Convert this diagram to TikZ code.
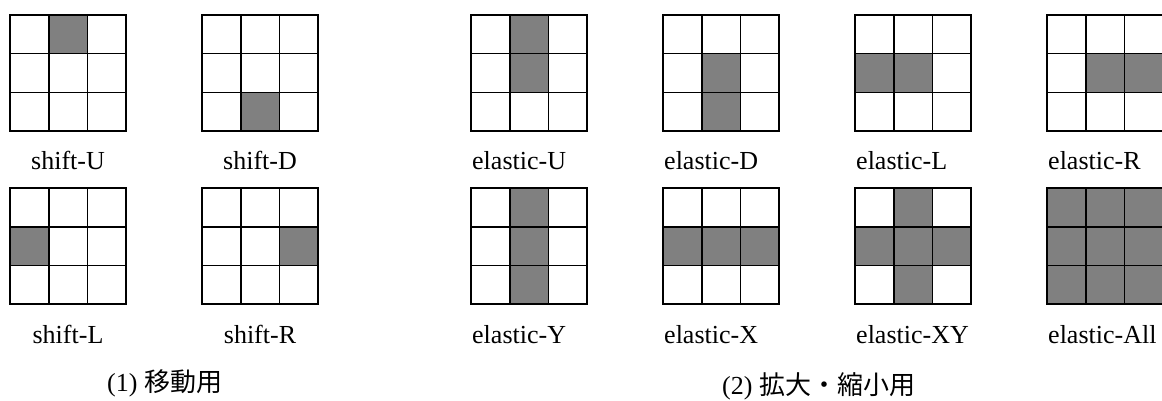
\documentclass[tikz,border=0pt]{standalone}
\usepackage{fontspec}
\setmainfont{Liberation Serif}
\newfontfamily\cjkfont{Noto Sans CJK JP}
\begin{document}
\begin{tikzpicture}[x=1pt,y=-1pt,
  cellfill/.style={fill=black!50!white},
  innerline/.style={line width=1.5pt,black},
  outerline/.style={line width=2pt,black},
  lab/.style={inner sep=0pt,font=\fontsize{26}{30}\selectfont},
  captext/.style={inner sep=0pt,font=\fontsize{26}{30}\selectfont}]
\useasboundingbox (0,0) rectangle (1162,401);
\def\cs{38.75}
\newcommand{\cellgrid}[3]{%
  \foreach \gr/\gc in {#3} {\fill[cellfill] ({#1+\gc*\cs},{#2+\gr*\cs}) rectangle ++(\cs,\cs);}
  \foreach \gi in {1,2} {
    \draw[innerline] ({#1+\gi*\cs},#2) -- ++(0,3*\cs);
    \draw[innerline] (#1,{#2+\gi*\cs}) -- ++(3*\cs,0);
  }
  \draw[outerline] (#1,#2) rectangle ++(3*\cs,3*\cs);
}
% row 1
\cellgrid{10}{15}{0/1}
\cellgrid{202}{15}{2/1}
\cellgrid{471}{15}{0/1,1/1}
\cellgrid{663}{15}{1/1,2/1}
\cellgrid{855}{15}{1/0,1/1}
\cellgrid{1047}{15}{1/1,1/2}
% row 2
\cellgrid{10}{188}{1/0}
\cellgrid{202}{188}{1/2}
\cellgrid{471}{188}{0/1,1/1,2/1}
\cellgrid{663}{188}{1/0,1/1,1/2}
\cellgrid{855}{188}{0/1,1/0,1/1,1/2,2/1}
\cellgrid{1047}{188}{0/0,0/1,0/2,1/0,1/1,1/2,2/0,2/1,2/2}
% labels
\node[lab,anchor=base] (lsu) at (68,170) {shift-U};
\node[lab,anchor=base] (lsd) at (260,170) {shift-D};
\node[lab,anchor=base west] (leu) at (472,170) {elastic-U};
\node[lab,anchor=base west] (led) at (664,170) {elastic-D};
\node[lab,anchor=base west] (lel) at (856,170) {elastic-L};
\node[lab,anchor=base west] (ler) at (1048,170) {elastic-R};
\node[lab,anchor=base] (lsl) at (68,343) {shift-L};
\node[lab,anchor=base] (lsr) at (260,343) {shift-R};
\node[lab,anchor=base west] (ley) at (472,343) {elastic-Y};
\node[lab,anchor=base west] (lex) at (664,343) {elastic-X};
\node[lab,anchor=base west] (lexy) at (856,343) {elastic-XY};
\node[lab,anchor=base west] (lea) at (1048,343) {elastic-All};
% captions
\node[captext,anchor=base west] (c1) at (107,391) {(1) {\cjkfont 移動用}};
\node[captext,anchor=base west] (c2) at (722,394) {(2) {\cjkfont 拡大・縮小用}};
\end{tikzpicture}
\end{document}
